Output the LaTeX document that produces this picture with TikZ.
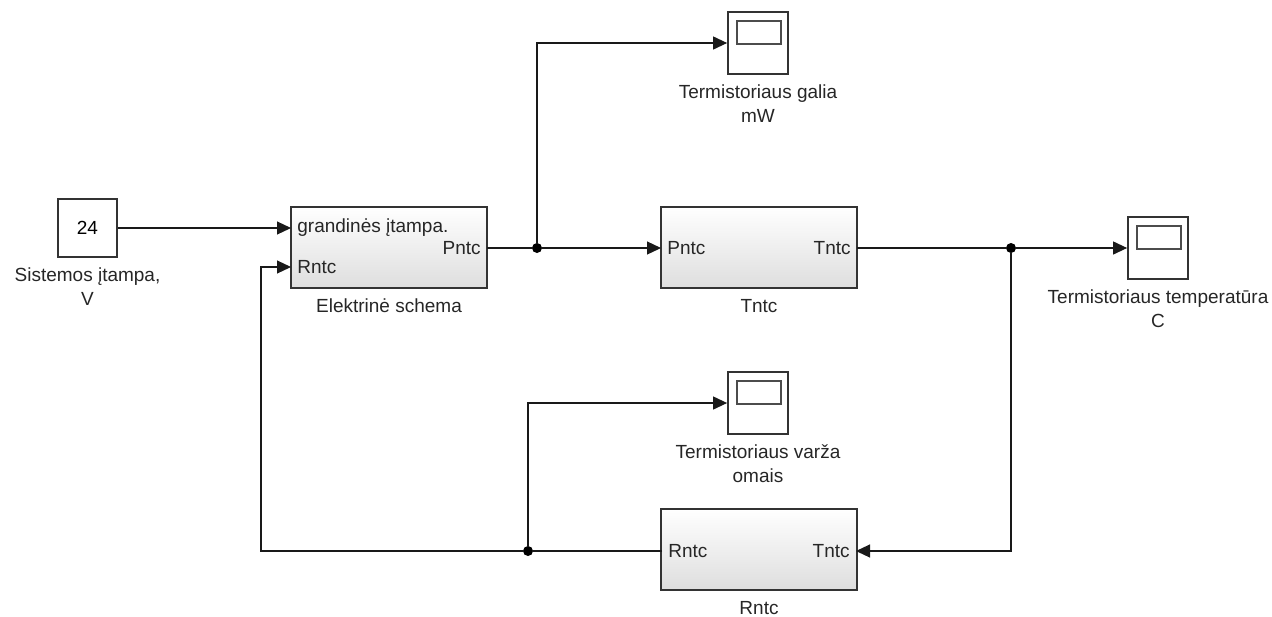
\documentclass[tikz,border=0pt]{standalone}
\usepackage{fontspec}
\setmainfont{Liberation Sans}
\usetikzlibrary{arrows.meta,shadows}
\tikzset{
  blokas/.style={draw=black!80, line width=0.9pt, top color=white, bottom color=black!13,
    minimum width=98pt, minimum height=40.5pt, inner sep=0pt,
    drop shadow={shadow xshift=0.7pt, shadow yshift=-0.7pt, opacity=0.25}},
  konst/.style={draw=black!80, line width=0.9pt, fill=white,
    minimum width=29.5pt, minimum height=29pt, inner sep=0pt,
    drop shadow={shadow xshift=0.7pt, shadow yshift=-0.7pt, opacity=0.25}},
  ekranas/.style={draw=black!80, line width=0.9pt, fill=white,
    minimum width=30pt, minimum height=31pt, inner sep=0pt,
    drop shadow={shadow xshift=0.7pt, shadow yshift=-0.7pt, opacity=0.25},
    path picture={\draw[black!70, line width=0.7pt]
      ([xshift=4.5pt,yshift=-4.5pt]path picture bounding box.north west) rectangle
      ([xshift=-3.5pt,yshift=-16pt]path picture bounding box.north east);}},
  prievadas/.style={inner sep=3pt, text=black!85},
  zyme/.style={align=center, text=black!85, label distance=1.5pt},
  jungtis/.style={line width=0.6pt, draw=black!90},
  mazgas/.style={circle, fill=black, inner sep=0pt, minimum size=5pt}
}
\begin{document}
\begin{tikzpicture}[x=0.5pt, y=-0.5pt, >={Triangle[length=7pt,width=6.5pt]},
    font=\fontsize{9.5}{12}\selectfont]
  \useasboundingbox (0,0) rectangle (1272,616);
  % blokai
  \node[konst, label={[zyme]below:{Sistemos įtampa,\\V}}] (konst) at (87.5,228) {24};
  \node[blokas, label={[zyme]below:Elektrinė schema}] (elek) at (389,247.5) {};
  \node[blokas, label={[zyme]below:Tntc}] (tntc) at (759,247.5) {};
  \node[blokas, label={[zyme]below:Rntc}] (rntc) at (759,549.5) {};
  \node[ekranas, label={[zyme]below:{Termistoriaus galia\\mW}}] (galia) at (758,43) {};
  \node[ekranas, label={[zyme]below:{Termistoriaus temperatūra\\C}}] (temp) at (1158,248) {};
  \node[ekranas, label={[zyme]below:{Termistoriaus varža\\omais}}] (varza) at (758,403) {};
  % prievadai
  \node[prievadas, anchor=west] (elek-u) at (291,228) {grandinės įtampa.};
  \node[prievadas, anchor=west] (elek-r) at (291,267) {Rntc};
  \node[prievadas, anchor=east] (elek-p) at (487,248) {Pntc};
  \node[prievadas, anchor=west] (tntc-p) at (661,248) {Pntc};
  \node[prievadas, anchor=east] (tntc-t) at (857,248) {Tntc};
  \node[prievadas, anchor=west] (rntc-r) at (662,551) {Rntc};
  \node[prievadas, anchor=east] (rntc-t) at (856,551) {Tntc};
  % mazgai
  \node[mazgas] (b1) at (537,248) {};
  \node[mazgas] (b2) at (1011,248) {};
  \node[mazgas] (b3) at (528,551) {};
  \coordinate (kampas) at (261,551);
  % jungtys
  \draw[jungtis,->] (konst.east) -- (elek-u.west);
  \draw[jungtis] (elek-p.east) -- (b1);
  \draw[jungtis,->] (b1) -- (tntc-p.west);
  \draw[jungtis,->] (b1) |- (galia);
  \draw[jungtis] (tntc-t.east) -- (b2);
  \draw[jungtis,->] (b2) -- (temp);
  \draw[jungtis,->] (b2) |- (rntc-t.east);
  \draw[jungtis] (rntc-r.west) -- (b3);
  \draw[jungtis,->] (b3) |- (varza);
  \draw[jungtis,->] (b3) -- (kampas) |- (elek-r.west);
\end{tikzpicture}
\end{document}
